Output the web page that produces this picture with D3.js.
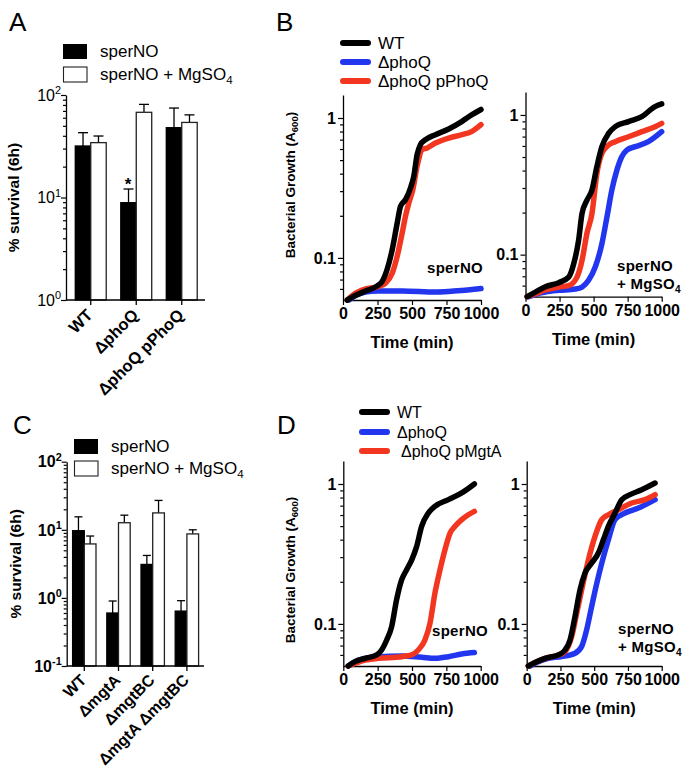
<!DOCTYPE html>
<html><head><meta charset="utf-8">
<script src="https://cdn.jsdelivr.net/npm/d3@7"></script>
<style>
body{margin:0;background:#fff}
svg{display:block}
text{font-family:"Liberation Sans",Arial,Helvetica,sans-serif;fill:#000}
</style>
</head><body>
<svg id="c" width="685" height="771"></svg>
<script>
// ---------- DATA ----------
// Panel A (bar chart, % survival)
const catsA = ["WT", "ΔphoQ", "ΔphoQ pPhoQ"];
const sperNO_A = [31.8, 8.9, 48];
const sperNO_A_err = [42.9, 12.1, 74.6];
const sperMg_A = [34.3, 67.8, 54];
const sperMg_A_err = [39.8, 81, 64];

// Panel C (bar chart, % survival)
const catsC = ["WT", "ΔmgtA", "ΔmgtBC", "ΔmgtA ΔmgtBC"];
const sperNO_C = [9.7, 0.6, 3.1, 0.64];
const sperNO_C_err = [15.5, 0.9, 4.2, 0.91];
const sperMg_C = [6.2, 12.7, 17.7, 8.7];
const sperMg_C_err = [8.1, 16.4, 27, 10.0];

// Growth-curve axes ticks
const timeTicks = [0, 250, 500, 750, 1000];
const growthTicks = [0.1, 1];

// Panel B left (sperNO)
const bL_WT_t = [31, 92, 164, 248, 284, 320, 357, 393, 417, 453, 489, 513, 537, 561, 598, 670, 766, 863, 935, 1000];
const bL_WT_v = [0.050, 0.054, 0.058, 0.063, 0.068, 0.083, 0.115, 0.178, 0.234, 0.261, 0.316, 0.383, 0.547, 0.645, 0.70, 0.76, 0.834, 0.947, 1.056, 1.15];
const bL_phoQ_t = [43, 92, 164, 248, 429, 670, 766, 863, 935, 1000];
const bL_phoQ_v = [0.050, 0.054, 0.057, 0.058, 0.058, 0.057, 0.0575, 0.0585, 0.0594, 0.0604];
const bL_comp_t = [31, 92, 164, 248, 308, 357, 393, 429, 453, 477, 506, 537, 573, 610, 670, 766, 863, 935, 1000];
const bL_comp_v = [0.050, 0.056, 0.060, 0.062, 0.066, 0.078, 0.103, 0.151, 0.199, 0.247, 0.308, 0.452, 0.594, 0.611, 0.662, 0.719, 0.760, 0.803, 0.896];

// Panel B right (sperNO + MgSO4)
const bR_WT_t = [12, 73, 146, 244, 317, 354, 390, 415, 451, 488, 524, 561, 610, 659, 756, 854, 951, 1000];
const bR_WT_v = [0.050, 0.054, 0.059, 0.063, 0.069, 0.086, 0.127, 0.197, 0.245, 0.29, 0.426, 0.593, 0.738, 0.825, 0.896, 0.973, 1.148, 1.2];
const bR_phoQ_t = [24, 73, 146, 244, 366, 415, 463, 512, 561, 598, 634, 671, 707, 744, 805, 902, 1000];
const bR_phoQ_v = [0.050, 0.052, 0.054, 0.0555, 0.0567, 0.0586, 0.0655, 0.0815, 0.12, 0.186, 0.29, 0.403, 0.502, 0.561, 0.593, 0.644, 0.759];
const bR_comp_t = [12, 73, 146, 244, 317, 378, 415, 451, 488, 524, 561, 610, 659, 756, 854, 951, 1000];
const bR_comp_v = [0.050, 0.0525, 0.056, 0.0586, 0.060, 0.069, 0.091, 0.142, 0.197, 0.381, 0.531, 0.61, 0.644, 0.698, 0.759, 0.825, 0.871];

// Panel D left (sperNO)
const dL_WT_t = [36, 85, 158, 243, 279, 316, 352, 388, 425, 461, 498, 534, 570, 619, 667, 765, 862, 954];
const dL_WT_v = [0.050, 0.0537, 0.0567, 0.060, 0.0651, 0.0767, 0.0957, 0.149, 0.207, 0.244, 0.287, 0.358, 0.498, 0.62, 0.692, 0.773, 0.863, 1.0];
const dL_phoQ_t = [36, 85, 158, 255, 425, 570, 667, 765, 862, 954];
const dL_phoQ_v = [0.050, 0.0537, 0.0567, 0.0583, 0.059, 0.0577, 0.0567, 0.0583, 0.061, 0.0624];
const dL_mgtA_t = [36, 85, 158, 255, 425, 498, 546, 594, 631, 667, 704, 740, 777, 813, 862, 910, 954];
const dL_mgtA_v = [0.050, 0.0522, 0.0551, 0.0567, 0.0583, 0.060, 0.0651, 0.0767, 0.101, 0.166, 0.244, 0.339, 0.446, 0.498, 0.556, 0.603, 0.637];

// Panel D right (sperNO + MgSO4)
const dR_WT_t = [12, 62, 136, 235, 284, 321, 358, 395, 432, 481, 531, 568, 605, 654, 704, 765, 852, 951];
const dR_WT_v = [0.050, 0.0529, 0.0567, 0.060, 0.0651, 0.0767, 0.113, 0.175, 0.231, 0.272, 0.321, 0.399, 0.498, 0.62, 0.773, 0.839, 0.91, 1.016];
const dR_phoQ_t = [25, 86, 160, 259, 358, 407, 444, 481, 519, 556, 605, 654, 728, 827, 951];
const dR_phoQ_v = [0.050, 0.0537, 0.0567, 0.0583, 0.0617, 0.0689, 0.0906, 0.133, 0.195, 0.272, 0.399, 0.556, 0.62, 0.673, 0.773];
const dR_mgtA_t = [12, 62, 136, 235, 284, 333, 370, 407, 457, 506, 556, 605, 679, 778, 877, 951];
const dR_mgtA_v = [0.050, 0.0529, 0.0567, 0.060, 0.0634, 0.0811, 0.119, 0.175, 0.287, 0.422, 0.556, 0.603, 0.655, 0.731, 0.773, 0.839];

const BLACK = "#000000", BLUE = "#2136ee", RED = "#f2361f";

// ---------- DRAWING ----------
const svg = d3.select("#c");

function zip(t, v) { return t.map((d, i) => ({t: d, v: v[i]})); }

function powLabel(sel, x, y, base, exp, size, weight) {
  const t = sel.append("text").attr("x", x).attr("y", y).attr("text-anchor", "end")
    .attr("font-size", size).attr("font-weight", weight);
  t.append("tspan").text(base);
  t.append("tspan").attr("dy", -size * 0.42).attr("font-size", size * 0.68).text(exp);
  return t;
}

function minorTicks(lo, hi) {
  const out = [];
  for (let e = Math.floor(Math.log10(lo)); e < Math.ceil(Math.log10(hi)); e++) {
    for (let k = 2; k <= 9; k++) {
      const v = k * Math.pow(10, e);
      if (v > lo && v < hi) out.push(v);
    }
  }
  return out;
}

function barPanel(o) {
  const g = svg.append("g");
  const x = d3.scaleBand().domain(o.cats).range(o.xr).paddingInner(o.pi).paddingOuter(o.pi / 2);
  const sub = d3.scaleBand().domain([0, 1]).range([0, x.bandwidth()]);
  const y = d3.scaleLog().domain(o.yd).range(o.yr);
  const series = [
    {v: o.s1, e: o.e1, fill: "#000", stroke: "#000"},
    {v: o.s2, e: o.e2, fill: "#fff", stroke: "#222"}
  ];
  series.forEach((s, si) => {
    const data = o.cats.map((c, i) => ({c, v: s.v[i], e: s.e[i]}));
    const cx = d => x(d.c) + sub(si) + sub.bandwidth() / 2;
    g.selectAll(null).data(data).enter().append("line")
      .attr("x1", cx).attr("x2", cx)
      .attr("y1", d => y(d.v)).attr("y2", d => y(d.e))
      .attr("stroke", "#000").attr("stroke-width", 1.3);
    g.selectAll(null).data(data).enter().append("line")
      .attr("x1", d => cx(d) - o.cap).attr("x2", d => cx(d) + o.cap)
      .attr("y1", d => y(d.e)).attr("y2", d => y(d.e))
      .attr("stroke", "#000").attr("stroke-width", 1.3);
    g.selectAll(null).data(data).enter().append("rect")
      .attr("x", d => x(d.c) + sub(si)).attr("width", sub.bandwidth())
      .attr("y", d => y(d.v)).attr("height", d => y(o.yd[0]) - y(d.v))
      .attr("fill", s.fill).attr("stroke", s.stroke).attr("stroke-width", 1.3);
  });
  // y axis
  const ya = g.append("g").attr("transform", `translate(${o.ax[0]},0)`);
  ya.call(d3.axisLeft(y).tickValues(o.majors).tickSize(5).tickSizeOuter(0).tickFormat(""));
  const ym = g.append("g").attr("transform", `translate(${o.ax[0]},0)`);
  ym.call(d3.axisLeft(y).tickValues(minorTicks(o.yd[0], o.yd[1])).tickSize(3).tickSizeOuter(0).tickFormat(""));
  ym.select(".domain").remove();
  g.selectAll(".tick line").attr("stroke", "#000").attr("stroke-width", 1.2);
  ya.select(".domain").attr("stroke", "#000").attr("stroke-width", 1.3);
  o.majors.forEach((v, i) => {
    powLabel(g, o.ax[0] - 5, y(v) + o.tickSize * 0.36, "10", o.exps[i], o.tickSize, o.tickWeight);
  });
  // x axis
  const xa = g.append("g").attr("transform", `translate(0,${o.yr[0]})`);
  xa.call(d3.axisBottom(x).tickSize(5).tickSizeOuter(0).tickFormat(""));
  xa.select(".domain").remove();
  xa.selectAll(".tick line").attr("stroke", "#000").attr("stroke-width", 1.3);
  g.append("line").attr("x1", o.ax[0]).attr("x2", o.ax[1]).attr("y1", o.yr[0]).attr("y2", o.yr[0])
    .attr("stroke", "#000").attr("stroke-width", 1.3);
  o.cats.forEach(c => {
    const cx = x(c) + x.bandwidth() / 2 + o.lblDx;
    g.append("text").attr("transform", `translate(${cx},${o.yr[0] + o.lblDy}) rotate(-45)`)
      .attr("text-anchor", "end").attr("font-size", o.lblSize).attr("font-weight", "bold").text(c);
  });
  // y title
  g.append("text").attr("transform", `translate(${o.titleX},${(o.yr[0] + o.yr[1]) / 2}) rotate(-90)`)
    .attr("text-anchor", "middle").attr("font-size", 15.5).attr("font-weight", "bold").text("% survival (6h)");
  return {x, y, g};
}

function barLegend(x, y1, y2, size) {
  const g = svg.append("g");
  g.append("rect").attr("x", x).attr("y", y1 - 13).attr("width", 24).attr("height", 15).attr("fill", "#000");
  g.append("rect").attr("x", x + 0.5).attr("y", y2 - 13).attr("width", 23.5).attr("height", 15).attr("fill", "#fff")
    .attr("stroke", "#222").attr("stroke-width", 1.1);
  g.append("text").attr("x", x + 37).attr("y", y1 + 0).attr("font-size", size).text("sperNO");
  const t = g.append("text").attr("x", x + 37).attr("y", y2 + 0).attr("font-size", size);
  t.append("tspan").text("sperNO + MgSO");
  t.append("tspan").attr("dy", 4).attr("font-size", size * 0.68).text("4");
}

function curvePanel(o) {
  const g = svg.append("g");
  const x = d3.scaleLinear().domain([0, 1000]).range(o.xr);
  const y = d3.scaleLog().domain([0.05, 1.46]).range(o.yr);
  const ya = g.append("g").attr("transform", `translate(${o.xr[0]},0)`);
  ya.call(d3.axisLeft(y).tickValues(growthTicks).tickSize(5).tickSizeOuter(0).tickFormat(d3.format("")));
  const ym = g.append("g").attr("transform", `translate(${o.xr[0]},0)`);
  ym.call(d3.axisLeft(y).tickValues(minorTicks(0.05, 1.46)).tickSize(3).tickSizeOuter(0).tickFormat(""));
  ym.select(".domain").remove();
  const xa = g.append("g").attr("transform", `translate(0,${o.yr[0]})`);
  xa.call(d3.axisBottom(x).tickValues(timeTicks).tickSize(5).tickSizeOuter(0).tickFormat(d3.format("d")));
  g.selectAll(".domain").attr("stroke", "#000").attr("stroke-width", 1.3);
  g.selectAll(".tick line").attr("stroke", "#000").attr("stroke-width", 1.2);
  g.selectAll(".tick text").attr("font-size", 16).attr("font-weight", "bold")
    .attr("font-family", '"Liberation Sans",Arial,Helvetica,sans-serif').attr("fill", "#000");
  ya.selectAll(".tick text").attr("x", -7);
  xa.selectAll(".tick text").attr("y", 8);
  const line = d3.line().x(d => x(d.t)).y(d => y(d.v)).curve(d3.curveMonotoneX);
  o.series.forEach(s => {
    g.append("path").datum(zip(s.t, s.v)).attr("d", line).attr("fill", "none")
      .attr("stroke", s.color).attr("stroke-width", 5.5).attr("stroke-linecap", "round").attr("stroke-linejoin", "round");
  });
  g.append("text").attr("x", (o.xr[0] + o.xr[1]) / 2).attr("y", o.yr[0] + 48)
    .attr("text-anchor", "middle").attr("font-size", 16.5).attr("font-weight", "bold").text("Time (min)");
  o.notes.forEach(n => {
    const t = g.append("text").attr("x", n.x).attr("y", n.y).attr("font-size", 15).attr("font-weight", "bold")
      .attr("letter-spacing", 0.3);
    t.append("tspan").text(n.text);
    if (n.sub) t.append("tspan").attr("dy", 4).attr("font-size", 10).text(n.sub);
  });
  return g;
}

function curveTitle(cx, cy) {
  const t = svg.append("text").attr("transform", `translate(${cx},${cy}) rotate(-90)`)
    .attr("text-anchor", "middle").attr("font-size", 13.5).attr("font-weight", "bold");
  t.append("tspan").text("Bacterial Growth (A");
  t.append("tspan").attr("dy", 3).attr("font-size", 9.5).text("600");
  t.append("tspan").attr("dy", -3).text(")");
}

function lineLegend(x, ys, labels, colors, size, dxs) {
  const g = svg.append("g");
  ys.forEach((yy, i) => {
    g.append("line").attr("x1", x).attr("x2", x + 25).attr("y1", yy).attr("y2", yy)
      .attr("stroke", colors[i]).attr("stroke-width", 6).attr("stroke-linecap", "round");
    g.append("text").attr("x", x + 35 + (dxs ? dxs[i] : 0)).attr("y", yy + size * 0.36)
      .attr("font-size", size).text(labels[i]);
  });
}

// Panel labels
[["A", 9, 31], ["B", 276, 31], ["C", 13, 434], ["D", 277, 434]].forEach(p => {
  svg.append("text").attr("x", p[1]).attr("y", p[2]).attr("font-size", 26).text(p[0]);
});

// Panel A
barPanel({
  cats: catsA, s1: sperNO_A, e1: sperNO_A_err, s2: sperMg_A, e2: sperMg_A_err,
  xr: [68, 204.5], pi: 0.32, yd: [1, 100], yr: [300, 95], ax: [66, 205],
  majors: [1, 10, 100], exps: ["0", "1", "2"], tickSize: 16, tickWeight: "normal",
  cap: 5, lblDx: 3, lblDy: 16, lblSize: 16.5, titleX: 19
});
svg.append("text").attr("x", 128).attr("y", 190).attr("text-anchor", "middle")
  .attr("font-size", 17).attr("font-weight", "bold").text("*");
barLegend(63, 57, 80, 17);

// Panel C
barPanel({
  cats: catsC, s1: sperNO_C, e1: sperNO_C_err, s2: sperMg_C, e2: sperMg_C_err,
  xr: [67.2, 204], pi: 0.316, yd: [0.1, 100], yr: [666, 461.7], ax: [66.7, 204],
  majors: [0.1, 1, 10, 100], exps: ["-1", "0", "1", "2"], tickSize: 16, tickWeight: "bold",
  cap: 4, lblDx: 3, lblDy: 15, lblSize: 16, titleX: 21
});
barLegend(74, 452, 474, 17);

// Panel B
curvePanel({xr: [343, 481], yr: [300, 95],
  series: [{t: bL_phoQ_t, v: bL_phoQ_v, color: BLUE}, {t: bL_comp_t, v: bL_comp_v, color: RED}, {t: bL_WT_t, v: bL_WT_v, color: BLACK}],
  notes: [{x: 427, y: 273, text: "sperNO"}]});
curvePanel({xr: [525.5, 661.7], yr: [296.7, 92],
  series: [{t: bR_phoQ_t, v: bR_phoQ_v, color: BLUE}, {t: bR_comp_t, v: bR_comp_v, color: RED}, {t: bR_WT_t, v: bR_WT_v, color: BLACK}],
  notes: [{x: 617, y: 271, text: "sperNO"}, {x: 617, y: 289, text: "+ MgSO", sub: "4"}]});
curveTitle(295, 185);
lineLegend(343, [43, 62, 81], ["WT", "ΔphoQ", "ΔphoQ pPhoQ"], [BLACK, BLUE, RED], 17);

// Panel D
curvePanel({xr: [343.3, 480.7], yr: [666, 461],
  series: [{t: dL_phoQ_t, v: dL_phoQ_v, color: BLUE}, {t: dL_mgtA_t, v: dL_mgtA_v, color: RED}, {t: dL_WT_t, v: dL_WT_v, color: BLACK}],
  notes: [{x: 432, y: 636, text: "sperNO"}]});
curvePanel({xr: [526.7, 661.7], yr: [666, 461],
  series: [{t: dR_phoQ_t, v: dR_phoQ_v, color: BLUE}, {t: dR_mgtA_t, v: dR_mgtA_v, color: RED}, {t: dR_WT_t, v: dR_WT_v, color: BLACK}],
  notes: [{x: 618, y: 634, text: "sperNO"}, {x: 618, y: 652, text: "+ MgSO", sub: "4"}]});
curveTitle(295, 570);
lineLegend(362, [412, 432, 451], ["WT", "ΔphoQ", "ΔphoQ pMgtA"], [BLACK, BLUE, RED], 16, [0, 0, 4]);
</script>
</body></html>
